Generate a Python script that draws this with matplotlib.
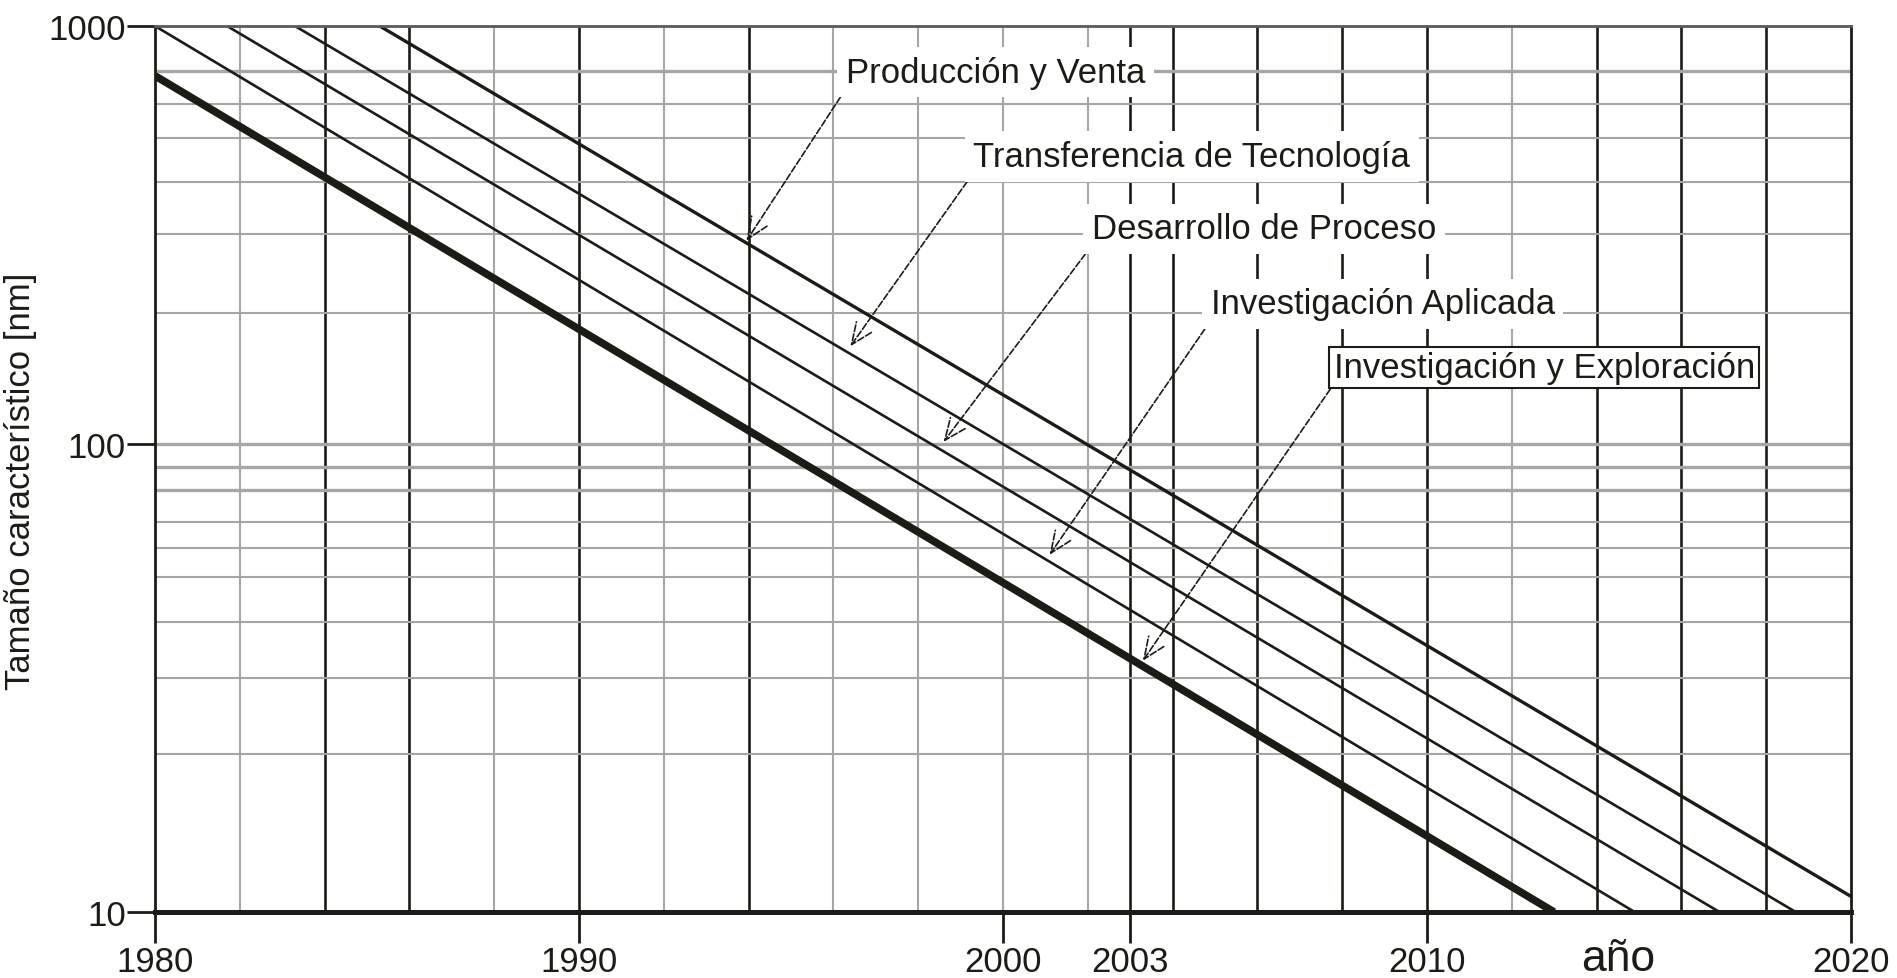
import matplotlib
matplotlib.use("Agg")
import matplotlib.pyplot as plt
import matplotlib.transforms as mtransforms
import numpy as np

plt.rcParams['font.family'] = ['Liberation Sans Narrow', 'Liberation Sans', 'DejaVu Sans']

# --- datos ---
etapas = ['Investigación y Exploración', 'Investigación Aplicada',
          'Desarrollo de Proceso', 'Transferencia de Tecnología',
          'Producción y Venta']
anio_inicio = [1980.0, 1980.0, 1981.7, 1983.3, 1985.3]
tam_inicio = [760, 1000, 1000, 1000, 1000]
anio_fin = [2013.0, 2014.9, 2016.9, 2018.7, 2020.0]
tam_fin = [10, 10, 10, 10, 10.8]

# puntos de las flechas (sobre cada recta) y posicion de cada etiqueta
flecha_anio = [2003.3, 2001.1, 1998.6, 1996.4, 1993.95]
flecha_tam = [34.4, 57.9, 101, 171, 306]
texto_anio = [2007.8, 2004.9, 2002.1, 1999.3, 1996.3]
texto_tam = [152, 216, 327, 487, 776]

x_ticks = [1980, 1990, 2000, 2003, 2010, 2020]
y_ticks = [10, 100, 1000]
y_tick_labels = ['10', '100', '1000']

grid_x_oscuro = [1984, 1986, 1990, 1994, 2003, 2004, 2006, 2008, 2010, 2014, 2016, 2018]
grid_x_claro = [1982, 1988, 1992, 1996, 1998, 2000, 2002, 2012]
grid_y_grueso = [780, 100, 89.3, 79.6]
grid_y_fino = [650, 538, 424, 318, 206, 68.2, 60.0, 51.8, 41.6, 31.6, 21.8]

# el dibujo original tiene decadas de distinto alto
W_LO = 0.5286
W_HI = 1 - W_LO


def fwd(y):
    l = np.log10(np.clip(y, 1e-6, None))
    return np.where(l < 2, (l - 1) * W_LO, W_LO + (l - 2) * W_HI)


def inv(t):
    t = np.asarray(t, dtype=float)
    return np.where(t < W_LO, 10 ** (t / W_LO + 1), 10 ** ((t - W_LO) / W_HI + 2))


fig = plt.figure(figsize=(18.97, 9.79), dpi=100)
ax = fig.add_axes([0.0817, 0.0674, 0.894, 0.905])
ax.set_yscale('function', functions=(fwd, inv))
ax.set_xlim(1980, 2020)
ax.set_ylim(10, 1000)

negro = '#1c1c16'
gris = '#a6a6a6'

for xv in grid_x_claro:
    ax.axvline(xv, color=gris, lw=1.5, zorder=1)
for xv in grid_x_oscuro:
    ax.axvline(xv, color=negro, lw=1.9, zorder=1)
for yv in grid_y_grueso:
    ax.axhline(yv, color=gris, lw=2.4, zorder=1)
for yv in grid_y_fino:
    ax.axhline(yv, color=gris, lw=1.5, zorder=1)

grosor = [5.5, 1.9, 1.9, 1.9, 2.4]
for i in range(len(etapas)):
    ax.plot([anio_inicio[i], anio_fin[i]], [tam_inicio[i], tam_fin[i]],
            color=negro, lw=grosor[i], solid_capstyle='butt', zorder=2)

for i, et in enumerate(etapas):
    caja = dict(boxstyle='square,pad=0.25', fc='white', ec='none')
    if i == 0:
        caja = dict(boxstyle='square,pad=0.12', fc='white', ec=negro, lw=1.5)
    ax.annotate(et, xy=(flecha_anio[i], flecha_tam[i]),
                xytext=(texto_anio[i], texto_tam[i]),
                ha='left', va='center', fontsize=25, color=negro, bbox=caja,
                arrowprops=dict(arrowstyle='->,head_length=0.7,head_width=0.3',
                                color=negro, lw=1.2, ls=(0, (4, 1.5)),
                                relpos=(0, 0), shrinkA=0, shrinkB=0,
                                mutation_scale=22),
                zorder=4)

# ejes
ax.set_xticks(x_ticks)
ax.set_xticklabels([str(v) for v in x_ticks])
ax.set_yticks(y_ticks)
ax.set_yticklabels(y_tick_labels)
ax.minorticks_off()
ax.tick_params(axis='x', direction='out', length=22, width=2.0, color=negro,
               labelsize=25, pad=2, labelcolor=negro)
ax.tick_params(axis='y', direction='out', length=20, width=2.0, color=negro,
               labelsize=25, pad=1, labelcolor=negro)

ax.spines['left'].set_linewidth(2.0)
ax.spines['left'].set_color(negro)
ax.spines['bottom'].set_linewidth(3.6)
ax.spines['bottom'].set_color(negro)
ax.spines['right'].set_linewidth(2.0)
ax.spines['right'].set_color(negro)
ax.spines['top'].set_linewidth(2.0)
ax.spines['top'].set_color('#5a5a5a')

trans = mtransforms.blended_transform_factory(ax.transData, ax.transAxes)
ax.text(2014.5, -0.052, 'año', transform=trans, ha='center', va='center',
        fontsize=32, color=negro)

fig.text(0.002, 0.508, 'Tamaño característico [nm]', rotation=90,
         ha='left', va='center', fontsize=25, color=negro)

fig.savefig('out.png', dpi=100)
